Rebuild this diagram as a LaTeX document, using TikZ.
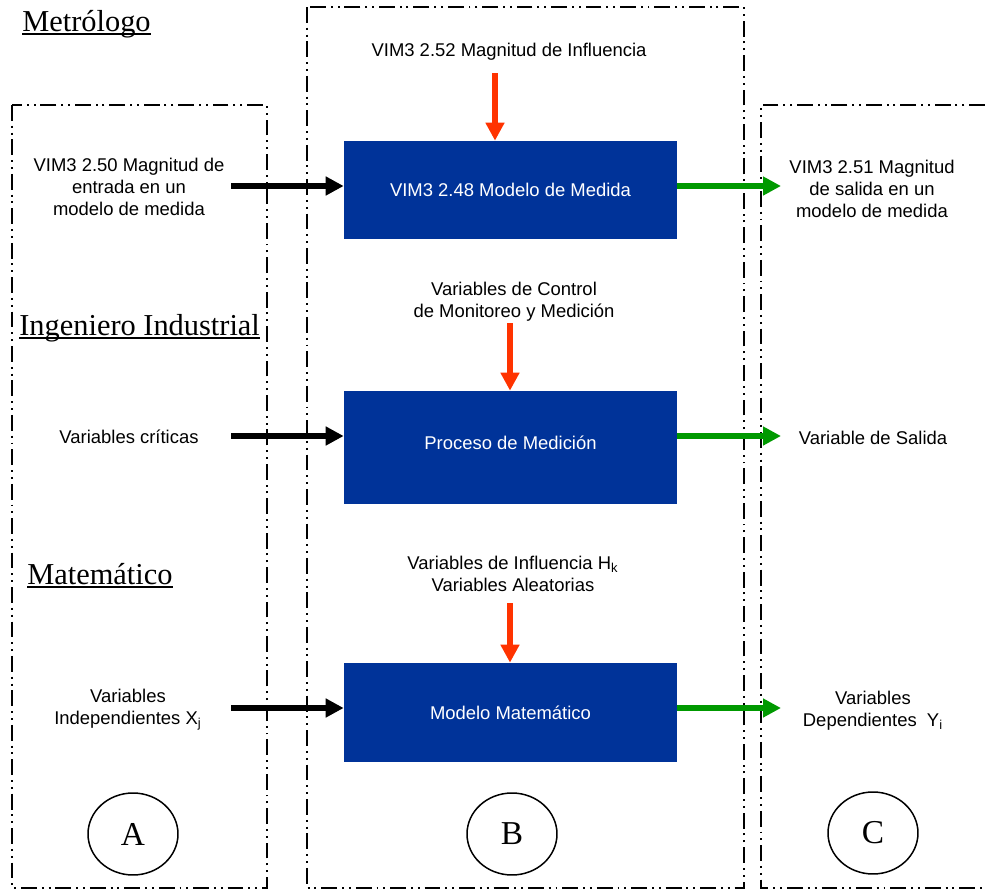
\documentclass[tikz,border=0pt]{standalone}
\usepackage{fontspec}
\setmainfont{Liberation Serif}
\setsansfont{Liberation Sans}
\usetikzlibrary{arrows.meta,shapes.geometric}
\definecolor{vimblue}{RGB}{0,51,153}
\definecolor{vimred}{RGB}{255,51,0}
\definecolor{vimgreen}{RGB}{0,153,0}
\newcommand{\rolename}[1]{\setbox0\hbox{#1}\rlap{\rule[-2pt]{\wd0}{0.85pt}}\box0}

\begin{document}
\begin{tikzpicture}[x=0.02cm,y=-0.02cm,
  frame/.style={line width=1.1pt,dash pattern=on 9pt off 2.8pt on 1.1pt off 2.8pt on 1.1pt off 2.8pt},
  role/.style={anchor=base west,inner sep=0pt,font=\fontsize{17.3}{20}\selectfont},
  txt/.style={align=center,inner sep=0pt,font=\sffamily\fontsize{10.5}{12.5}\selectfont},
  model/.style={fill=vimblue,text=white,minimum width=6.66cm,inner sep=0pt,font=\sffamily\fontsize{10.5}{12.5}\selectfont},
  tag/.style={ellipse,draw,line width=0.85pt,minimum width=1.8cm,minimum height=1.64cm,inner sep=0pt,font=\fontsize{19}{22}\selectfont},
  flow/.style={line width=3.2pt,-{Triangle[length=0.36cm,width=0.36cm]}}]
 \useasboundingbox (0,0) rectangle (985,890);

 \draw[frame] (12,105) rectangle (267,888);
 \draw[frame] (307,7) rectangle (744,888);
 \draw[frame] (985,105) -- (761,105) -- (761,888) -- (985,888);

 \node[role] (metrologo) at (22,31) {\rolename{Metrólogo}};
 \node[role] (ingeniero) at (19,335) {\rolename{Ingeniero Industrial}};
 \node[role] (matematico) at (27,584) {\rolename{Matemático}};

 \node[txt] (entrada) at (129,187) {VIM3 2.50 Magnitud de\\entrada en un\\modelo de medida};
 \node[txt] (criticas) at (129,437) {Variables críticas};
 \node[txt] (indep) at (128,710) {Variables\\Independientes X\textsubscript{j}};

 \node[txt] (influencia) at (509,52) {VIM3 2.52 Magnitud de Influencia};
 \node[txt] (control) at (514,302) {Variables de Control\\de Monitoreo y Medición};
 \node[txt] (aleatorias) at (513,574) {Variables de Influencia H\textsubscript{k}\\Variables Aleatorias};

 \node[txt] (salida) at (872,189) {VIM3 2.51 Magnitud\\de salida en un\\modelo de medida};
 \node[txt] (varsalida) at (873,438) {Variable de Salida};
 \node[txt] (dep) at (873,711) {Variables\\Dependientes~~Y\textsubscript{i}};

 \node[model,minimum height=1.96cm] (medida) at (510.5,190) {VIM3 2.48 Modelo de Medida};
 \node[model,minimum height=2.26cm] (proceso) at (510.5,447.5) {\raisebox{5pt}{Proceso de Medición}};
 \node[model,minimum height=1.98cm] (mate) at (510.5,712.5) {Modelo Matemático};

 \coordinate (r1) at (495,73);
 \coordinate (r2) at (510,323);
 \coordinate (r3) at (510,603);
 \draw[flow,vimred] (r1) -- (r1 |- medida.north);
 \draw[flow,vimred] (r2) -- (r2 |- proceso.north);
 \draw[flow,vimred] (r3) -- (r3 |- mate.north);

 \coordinate (e1) at (231,186);
 \coordinate (e2) at (231,436);
 \coordinate (e3) at (231,708);
 \draw[flow] (e1) -- (e1 -| medida.west);
 \draw[flow] (e2) -- (e2 -| proceso.west);
 \draw[flow] (e3) -- (e3 -| mate.west);

 \coordinate (s1) at (781,186);
 \coordinate (s2) at (781,436);
 \coordinate (s3) at (781,708);
 \draw[flow,vimgreen] (s1 -| medida.east) -- (s1);
 \draw[flow,vimgreen] (s2 -| proceso.east) -- (s2);
 \draw[flow,vimgreen] (s3 -| mate.east) -- (s3);

 \node[tag] (A) at (133,834) {A};
 \node[tag] (B) at (512,834) {B};
 \node[tag] (C) at (873,833) {C};
\end{tikzpicture}
\end{document}
